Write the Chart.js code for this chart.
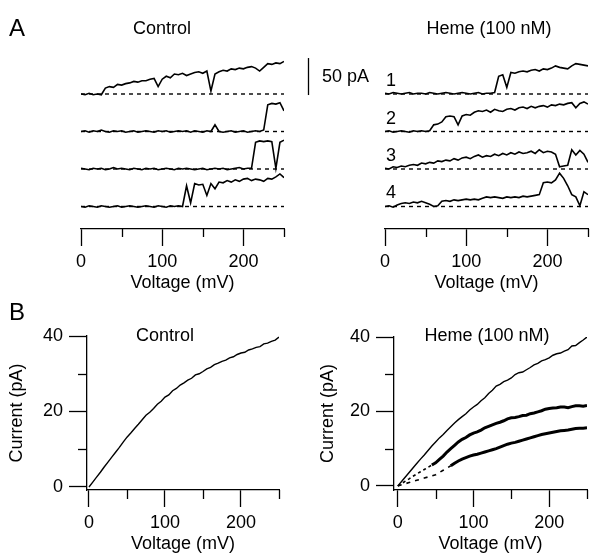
<!DOCTYPE html>
<html>
<head>
<meta charset="utf-8">
<title>Heme IV figure</title>
<script src="https://cdn.jsdelivr.net/npm/chart.js@4.4.1/dist/chart.umd.min.js"></script>
<style>
  html, body { margin: 0; padding: 0; background: #fff; }
  #figure {
    position: relative; width: 590px; height: 553px; overflow: hidden;
    font-family: "Liberation Sans", Arial, Helvetica, sans-serif; color: #000;
  }
  #figure canvas { position: absolute; }
  .lbl { position: absolute; font-size: 18px; line-height: 1; white-space: nowrap; transform: translate(-50%, -50%); }
  .panel { font-size: 24px; transform: translate(0, -50%); }
  .left { transform: translate(0, -50%); }
</style>
</head>
<body>
<div id="figure">
  <canvas id="traceControl" width="300" height="300" style="left:0;top:0"></canvas>
  <canvas id="traceHeme" width="290" height="300" style="left:300px;top:0"></canvas>
  <canvas id="ivControl" width="300" height="261" style="left:0;top:300px"></canvas>
  <canvas id="ivHeme" width="290" height="261" style="left:300px;top:300px"></canvas>

  <div class="lbl panel" style="left:9px;top:28px">A</div>
  <div class="lbl" style="left:162px;top:28px">Control</div>
  <div class="lbl" style="left:489px;top:28px">Heme (100 nM)</div>
  <div class="lbl left" style="left:322px;top:76px">50 pA</div>
  <div class="lbl" style="left:391px;top:80px">1</div>
  <div class="lbl" style="left:391px;top:118px">2</div>
  <div class="lbl" style="left:391px;top:155px">3</div>
  <div class="lbl" style="left:391px;top:192px">4</div>

  <div class="lbl panel" style="left:9px;top:312px">B</div>
  <div class="lbl" style="left:165px;top:335px">Control</div>
  <div class="lbl" style="left:487px;top:335px">Heme (100 nM)</div>
</div>

<script>
    // Voltage ramp (mV), shared by every trace and IV curve
    const voltage = [0, 5, 10, 15, 20, 25, 30, 35, 40, 45, 50, 55, 60, 65, 70, 75, 80, 85, 90, 95,
        100, 105, 110, 115, 120, 125, 130, 135, 140, 145, 150, 155, 160, 165, 170, 175, 180, 185, 190, 195,
        200, 205, 210, 215, 220, 225, 230, 235, 240, 245, 250];

    // Panel A: single-channel current (pA) above each baseline
    const controlTrace1 = [0, -1, 1, -1, 0, -1, 8, 10, 9, 13, 12, 14, 15, 17, 16, 18, 18, 20, 21, 10,
        20, 24, 22, 27, 26, 28, 25, 27, 29, 30, 28, 31, 4, 27, 30, 32, 31, 34, 33, 35,
        34, 36, 37, 35, 31, 36, 41, 40, 42, 41, 44];
    const controlTrace2 = [0, 1, -1, 1, 0, 2, 0, -1, 1, 0, 1, -1, 0, 1, -1, 0, 1, 0, -1, 1,
        0, 1, -1, 0, 1, 0, 1, -1, 1, 0, -1, 1, 0, 9, 0, -1, 0, 1, -1, 0,
        1, -1, 0, 1, 0, 2, 36, 38, 37, 39, 28];
    const controlTrace3 = [1, 0, -1, 1, 0, 1, -1, 0, 2, 0, 1, 0, -1, 1, 0, -1, 1, 0, 1, -1,
        0, 1, 0, -1, 1, 0, 1, 0, -1, 0, 1, -1, 0, 1, 0, 1, -1, 0, 1, 2,
        0, 1, 1, 36, 38, 37, 38, 37, 1, 36, 39];
    const controlTrace4 = [0, -1, 1, 0, -1, 1, 0, -1, 0, 1, -1, 0, 1, 0, -1, 0, 1, 0, -1, 1,
        0, -1, 1, 0, 1, 0, 28, 5, 31, 29, 30, 15, 31, 24, 33, 32, 35, 33, 36, 34,
        37, 38, 35, 37, 36, 34, 38, 37, 40, 44, 39];

    const hemeTrace1 = [1, 0, 2, 1, 0, 1, 2, 0, 1, 1, 0, 2, 1, 0, 1, 2, 1, 0, 1, 2,
        1, 0, 1, 2, 0, 1, 1, 2, 24, 26, 9, 29, 28, 30, 31, 30, 32, 33, 31, 34,
        33, 35, 38, 36, 35, 34, 38, 41, 40, 39, 38];
    const hemeTrace2 = [0, 1, -1, 0, 1, 0, -1, 1, 0, 1, 0, 1, 9, 10, 13, 20, 21, 20, 9, 21,
        23, 22, 26, 28, 27, 29, 26, 30, 28, 27, 30, 31, 29, 32, 33, 31, 34, 32, 34, 35,
        33, 36, 35, 37, 36, 38, 39, 32, 38, 40, 37];
    const hemeTrace3 = [1, 0, 3, 2, 4, 3, 5, 6, 5, 8, 7, 9, 8, 11, 10, 12, 11, 14, 12, 15,
        16, 14, 17, 19, 16, 18, 17, 20, 18, 21, 19, 22, 20, 23, 21, 22, 24, 21, 26, 22,
        24, 23, 20, 3, 4, 5, 26, 19, 25, 20, 9];
    const hemeTrace4 = [0, 1, -1, 2, 4, 5, 4, 6, 5, 7, 5, 3, 0, 1, 7, 8, 7, 9, 8, 9,
        10, 9, 10, 9, 11, 13, 12, 13, 12, 11, 13, 12, 13, 12, 14, 13, 14, 15, 16, 32,
        33, 32, 36, 45, 38, 28, 16, 13, 1, 20, 16];

    // Panel B: macroscopic current (pA)
    const ivControl = [0, 1.3, 2.6, 3.9, 5.3, 6.6, 7.9, 9.2, 10.5, 11.9, 13.2, 14.3, 15.5, 16.6, 17.8, 19.0, 19.8, 20.8, 21.9, 22.7,
        23.8, 24.4, 25.5, 26.1, 27.0, 27.6, 28.3, 28.8, 29.7, 30.0, 30.6, 31.3, 31.7, 32.4, 32.8, 33.3, 33.6, 34.2, 34.5, 35.1,
        35.5, 35.7, 36.3, 36.6, 37.0, 37.2, 37.9, 38.1, 38.6, 38.9, 39.7];
    const ivHemeHigh = [0, 1.2, 2.4, 3.6, 4.8, 6.0, 7.2, 8.3, 9.5, 10.7, 11.8, 12.9, 13.8, 14.9, 15.9, 16.9, 17.8, 18.6, 19.4, 20.4,
        21.2, 21.9, 22.9, 23.7, 24.8, 25.7, 26.8, 27.3, 28.0, 28.4, 29.0, 29.9, 30.4, 30.6, 31.2, 31.8, 32.5, 32.9, 33.6, 33.9,
        34.4, 35.1, 35.5, 35.7, 36.2, 36.6, 37.6, 37.7, 38.5, 39.2, 40.0];
    const ivHemeMid = [0, 0.6, 1.3, 1.9, 2.6, 3.2, 3.8, 4.4, 5.0, 5.6, 6.2, 7.1, 8.0, 9.1, 10.0, 10.9, 11.8, 12.5, 13.0, 13.7,
        14.2, 14.5, 15.0, 15.6, 16.0, 16.4, 16.8, 17.1, 17.5, 18.0, 18.3, 18.4, 18.6, 18.9, 19.0, 19.4, 19.6, 19.9, 20.2, 20.6,
        20.8, 20.9, 21.0, 21.2, 21.2, 21.0, 21.3, 21.5, 21.5, 21.4, 21.6];
    const ivHemeLow = [0, 0.3, 0.6, 0.9, 1.2, 1.5, 1.8, 2.1, 2.4, 2.7, 3.0, 3.6, 4.2, 4.8, 5.4, 6.1, 6.7, 7.2, 7.6, 8.0,
        8.3, 8.5, 8.8, 9.1, 9.4, 9.7, 10.0, 10.4, 10.8, 11.2, 11.5, 11.7, 12.0, 12.3, 12.6, 12.9, 13.2, 13.5, 13.8, 14.0,
        14.2, 14.4, 14.6, 14.8, 14.9, 15.0, 15.2, 15.4, 15.5, 15.5, 15.6];

    // Tick values and scale bar
    const majorVoltageTicks = [0, 100, 200];
    const minorVoltageTicks = [50, 150, 250];
    const majorCurrentTicks = [0, 20, 40];
    const minorCurrentTicks = [10, 30];
    const scaleBarPA = 50;

    // Layout (pixels) for the stacked traces of panel A
    const TRACE_TOP = 50;
    const TRACE_BOTTOM = 229;
    const TRACE_PX_PER_PA = 0.74;
    const TRACE_BASELINES = [94, 131.5, 169, 206.5];

    Chart.defaults.font.family = '"Liberation Sans", Arial, Helvetica, sans-serif';
    Chart.defaults.font.size = 18;
    Chart.defaults.color = '#000';

    /**
     * Short minor tick marks (Chart.js has one tick length per axis)
     */
    const minorTicksPlugin = {
        id: 'minorTicks',
        afterDraw(chart, args, opts) {
            const ctx = chart.ctx;
            ctx.save();
            ctx.strokeStyle = '#000';
            ctx.lineWidth = 1.3;
            if (opts.x) {
                const xs = chart.scales.x;
                opts.x.forEach(v => {
                    const px = Math.round(xs.getPixelForValue(v)) + 0.5;
                    ctx.beginPath();
                    ctx.moveTo(px, xs.top);
                    ctx.lineTo(px, xs.top + opts.xLength);
                    ctx.stroke();
                });
            }
            if (opts.y) {
                const ys = chart.scales.y;
                opts.y.forEach(v => {
                    const py = Math.round(ys.getPixelForValue(v)) + 0.5;
                    ctx.beginPath();
                    ctx.moveTo(ys.right, py);
                    ctx.lineTo(ys.right - opts.yLength, py);
                    ctx.stroke();
                });
            }
            ctx.restore();
        }
    };

    /**
     * Vertical calibration bar drawn on a trace scale
     */
    const scaleBarPlugin = {
        id: 'scaleBar',
        afterDraw(chart, args, opts) {
            if (!opts.axis) return;
            const s = chart.scales[opts.axis];
            const ctx = chart.ctx;
            ctx.save();
            ctx.strokeStyle = '#000';
            ctx.lineWidth = 1.3;
            ctx.beginPath();
            ctx.moveTo(opts.x, s.getPixelForValue(opts.from));
            ctx.lineTo(opts.x, s.getPixelForValue(opts.from + opts.size));
            ctx.stroke();
            ctx.restore();
        }
    };

    Chart.register(minorTicksPlugin, scaleBarPlugin);

    function pairs(values) {
        return voltage.map((v, i) => ({ x: v, y: values[i] }));
    }

    function voltageAxis(min) {
        return {
            type: 'linear',
            min: min,
            max: voltage[voltage.length - 1],
            afterBuildTicks: s => { s.ticks = majorVoltageTicks.map(v => ({ value: v })); },
            afterFit: s => { s.height = 71; },
            grid: { drawOnChartArea: false, tickLength: 17, tickWidth: 1.3, tickColor: '#000' },
            border: { color: '#000', width: 1.3 },
            ticks: { padding: 5, maxRotation: 0, autoSkip: false },
            title: { display: true, text: 'Voltage (mV)', padding: { top: 0, bottom: 6 } }
        };
    }

    function currentAxis(width, titlePad, min) {
        return {
            type: 'linear',
            min: min,
            max: 40,
            afterBuildTicks: s => { s.ticks = majorCurrentTicks.map(v => ({ value: v })); },
            afterFit: s => { s.width = width; },
            grid: { drawOnChartArea: false, tickLength: 18, tickWidth: 1.3, tickColor: '#000' },
            border: { color: '#000', width: 1.3 },
            ticks: { padding: 6 },
            title: { display: true, text: 'Current (pA)', padding: { top: titlePad, bottom: 0 } }
        };
    }

    // Hidden y scale that puts 0 pA on a given baseline
    function bandScale(baseline) {
        return {
            type: 'linear',
            display: false,
            min: -(TRACE_BOTTOM - baseline) / TRACE_PX_PER_PA,
            max: (baseline - TRACE_TOP) / TRACE_PX_PER_PA
        };
    }

    function baseOptions(padding, scales, plugins) {
        return {
            responsive: false,
            devicePixelRatio: 1,
            animation: false,
            layout: { padding: padding },
            scales: scales,
            plugins: Object.assign({ legend: { display: false }, tooltip: { enabled: false } }, plugins)
        };
    }

    function traceChart(id, traces, padding, scaleBar) {
        const scales = { x: voltageAxis(0) };
        const datasets = [];
        traces.forEach((values, k) => {
            const axisId = 'y' + (k + 1);
            scales[axisId] = bandScale(TRACE_BASELINES[k]);
            datasets.push({
                data: pairs(values), yAxisID: axisId,
                borderColor: '#000', borderWidth: 1.6, pointRadius: 0
            });
            datasets.push({
                data: [{ x: voltage[0], y: 0 }, { x: voltage[voltage.length - 1], y: 0 }], yAxisID: axisId,
                borderColor: '#000', borderWidth: 1.4, borderDash: [4, 4], pointRadius: 0
            });
        });
        return new Chart(document.getElementById(id), {
            type: 'line',
            data: { datasets: datasets },
            options: baseOptions(padding, scales, {
                minorTicks: { x: minorVoltageTicks, xLength: 8 },
                scaleBar: scaleBar || {}
            })
        });
    }

    traceChart('traceControl', [controlTrace1, controlTrace2, controlTrace3, controlTrace4],
        { left: 81, right: 16, top: TRACE_TOP, bottom: 0 });
    traceChart('traceHeme', [hemeTrace1, hemeTrace2, hemeTrace3, hemeTrace4],
        { left: 85, right: 2, top: TRACE_TOP, bottom: 0 },
        { axis: 'y1', x: 8.5, from: -1.4, size: scaleBarPA });

    new Chart(document.getElementById('ivControl'), {
        type: 'line',
        data: {
            datasets: [{
                data: pairs(ivControl), borderColor: '#000', borderWidth: 1.4, pointRadius: 0
            }]
        },
        options: baseOptions({ left: 0, right: 21, top: 36, bottom: 0 },
            { x: voltageAxis(-2.6), y: currentAxis(87, 6, -0.8) },
            { minorTicks: { x: minorVoltageTicks, xLength: 9, y: minorCurrentTicks, yLength: 9 } })
    });

    new Chart(document.getElementById('ivHeme'), {
        type: 'line',
        data: {
            datasets: [{
                data: pairs(ivHemeHigh), borderColor: '#000', borderWidth: 1.4, pointRadius: 0
            }, {
                data: pairs(ivHemeMid), borderColor: '#000', borderWidth: 3, pointRadius: 0,
                segment: {
                    borderDash: c => c.p0.parsed.x < 45 ? [3, 3] : undefined,
                    borderWidth: c => c.p0.parsed.x < 45 ? 1.6 : 3
                }
            }, {
                data: pairs(ivHemeLow), borderColor: '#000', borderWidth: 3, pointRadius: 0,
                segment: {
                    borderDash: c => c.p0.parsed.x < 70 ? [4, 5] : undefined,
                    borderWidth: c => c.p0.parsed.x < 70 ? 1.6 : 3
                }
            }]
        },
        options: baseOptions({ left: 0, right: 3, top: 37, bottom: 0 },
            { x: voltageAxis(-5), y: currentAxis(94, 17, -1.1) },
            { minorTicks: { x: minorVoltageTicks, xLength: 9, y: minorCurrentTicks, yLength: 9 } })
    });
</script>
</body>
</html>
